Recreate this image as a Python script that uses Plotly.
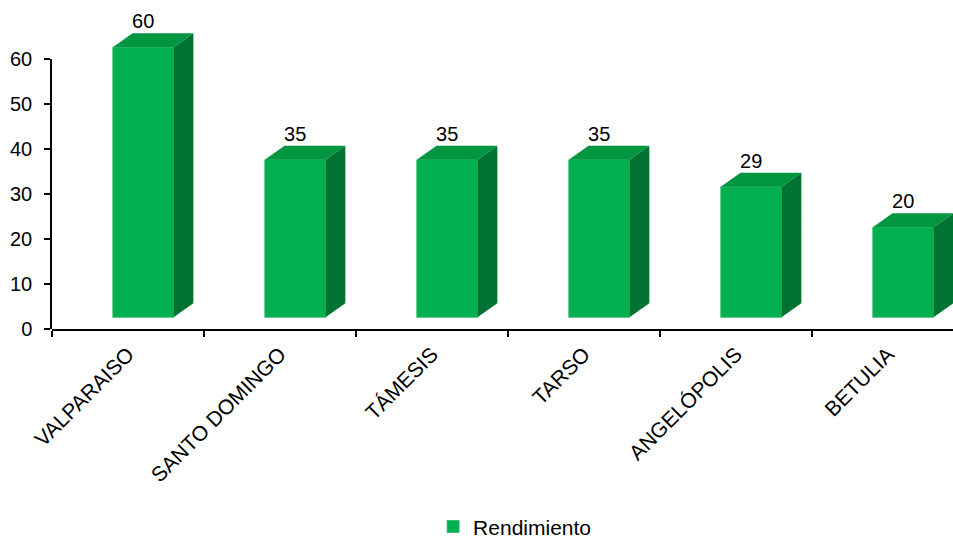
import plotly.graph_objects as go

categories = ["VALPARAISO", "SANTO DOMINGO", "TÁMESIS", "TARSO", "ANGELÓPOLIS", "BETULIA"]
values = [60, 35, 35, 35, 29, 20]
series_name = "Rendimiento"
y_ticks = [0, 10, 20, 30, 40, 50, 60]

# 3D look parameters (in axis units)
BASE = 2.6      # floor lift of the front face
X0 = -0.1       # front face left offset from category center
W = 0.4         # front face width
DX = 0.13       # depth shift in x
DY = 3.1        # depth shift in y

FRONT = "#00B050"
TOP = "#00953F"
SIDE = "#007232"

xs = list(range(len(categories)))
font = "Liberation Sans, Arial, sans-serif"

fig = go.Figure()

fig.add_trace(go.Bar(
    x=xs, y=values, base=BASE, offset=X0, width=W,
    marker=dict(color=FRONT, line=dict(color="#2DBA63", width=0.8)),
    name=series_name, showlegend=True, hoverinfo="skip", cliponaxis=False,
))

# side faces
sx, sy = [], []
for c, v in zip(xs, values):
    r = c + X0 + W
    sx += [r, r + DX, r + DX, r, r, None]
    sy += [BASE, BASE + DY, BASE + v + DY, BASE + v, BASE, None]
fig.add_trace(go.Scatter(x=sx, y=sy, fill="toself", fillcolor=SIDE, mode="lines",
                         line=dict(width=0, color=SIDE), showlegend=False, hoverinfo="skip"))

# top faces
tx, ty = [], []
for c, v in zip(xs, values):
    l = c + X0
    r = l + W
    t = BASE + v
    tx += [l, l + DX, r + DX, r, l, None]
    ty += [t, t + DY, t + DY, t, t, None]
fig.add_trace(go.Scatter(x=tx, y=ty, fill="toself", fillcolor=TOP, mode="lines",
                         line=dict(width=0, color=TOP), showlegend=False, hoverinfo="skip"))

# data labels
fig.add_trace(go.Scatter(
    x=[c + X0 + W / 2 for c in xs],
    y=[BASE + v + DY + 2.3 for v in values],
    text=[str(v) for v in values], mode="text", textposition="middle center",
    textfont=dict(family=font, size=20, color="black"),
    showlegend=False, hoverinfo="skip", cliponaxis=False,
))

# dummy trace for the visible value axis
fig.add_trace(go.Scatter(x=[None], y=[None], yaxis="y2", showlegend=False, hoverinfo="skip"))

fig.update_layout(
    width=953, height=540,
    margin=dict(l=52, r=0, t=14, b=211, autoexpand=False),
    paper_bgcolor="white", plot_bgcolor="rgba(0,0,0,0)",
    font=dict(family=font, size=20, color="black"),
    xaxis=dict(
        range=[-0.5, 5.428], tickmode="array", tickvals=xs, ticktext=categories,
        tickangle=-45, ticks="", showgrid=False, zeroline=False, automargin=False,
        showline=True, linecolor="black", linewidth=1.5, ticklabelstandoff=3,
        tickfont=dict(family=font, size=21, color="black"),
        minor=dict(tickmode="array", tickvals=[i - 0.5 for i in range(len(categories) + 1)],
                   ticks="outside", ticklen=6, tickwidth=1.5, tickcolor="black", showgrid=False),
    ),
    yaxis=dict(range=[0, 70], showline=False, showticklabels=False, ticks="",
               showgrid=False, zeroline=False, automargin=False),
    yaxis2=dict(range=[0, 60], domain=[0, 60 / 70], anchor="x",
                tickmode="array", tickvals=y_ticks, ticks="outside", ticklen=6,
                tickwidth=1.5, tickcolor="black", showline=True, linecolor="black",
                linewidth=1.5, showgrid=False, zeroline=False, ticklabelstandoff=8,
                automargin=False,
                tickfont=dict(family=font, size=20, color="black")),
    showlegend=True,
    legend=dict(orientation="h", x=0.423, xanchor="left", y=-0.628, yanchor="middle",
                font=dict(family=font, size=21, color="black"), bgcolor="rgba(0,0,0,0)"),
)

fig.write_html("out.html", post_script="document.body.style.margin='0';",
               config={"displayModeBar": False})
